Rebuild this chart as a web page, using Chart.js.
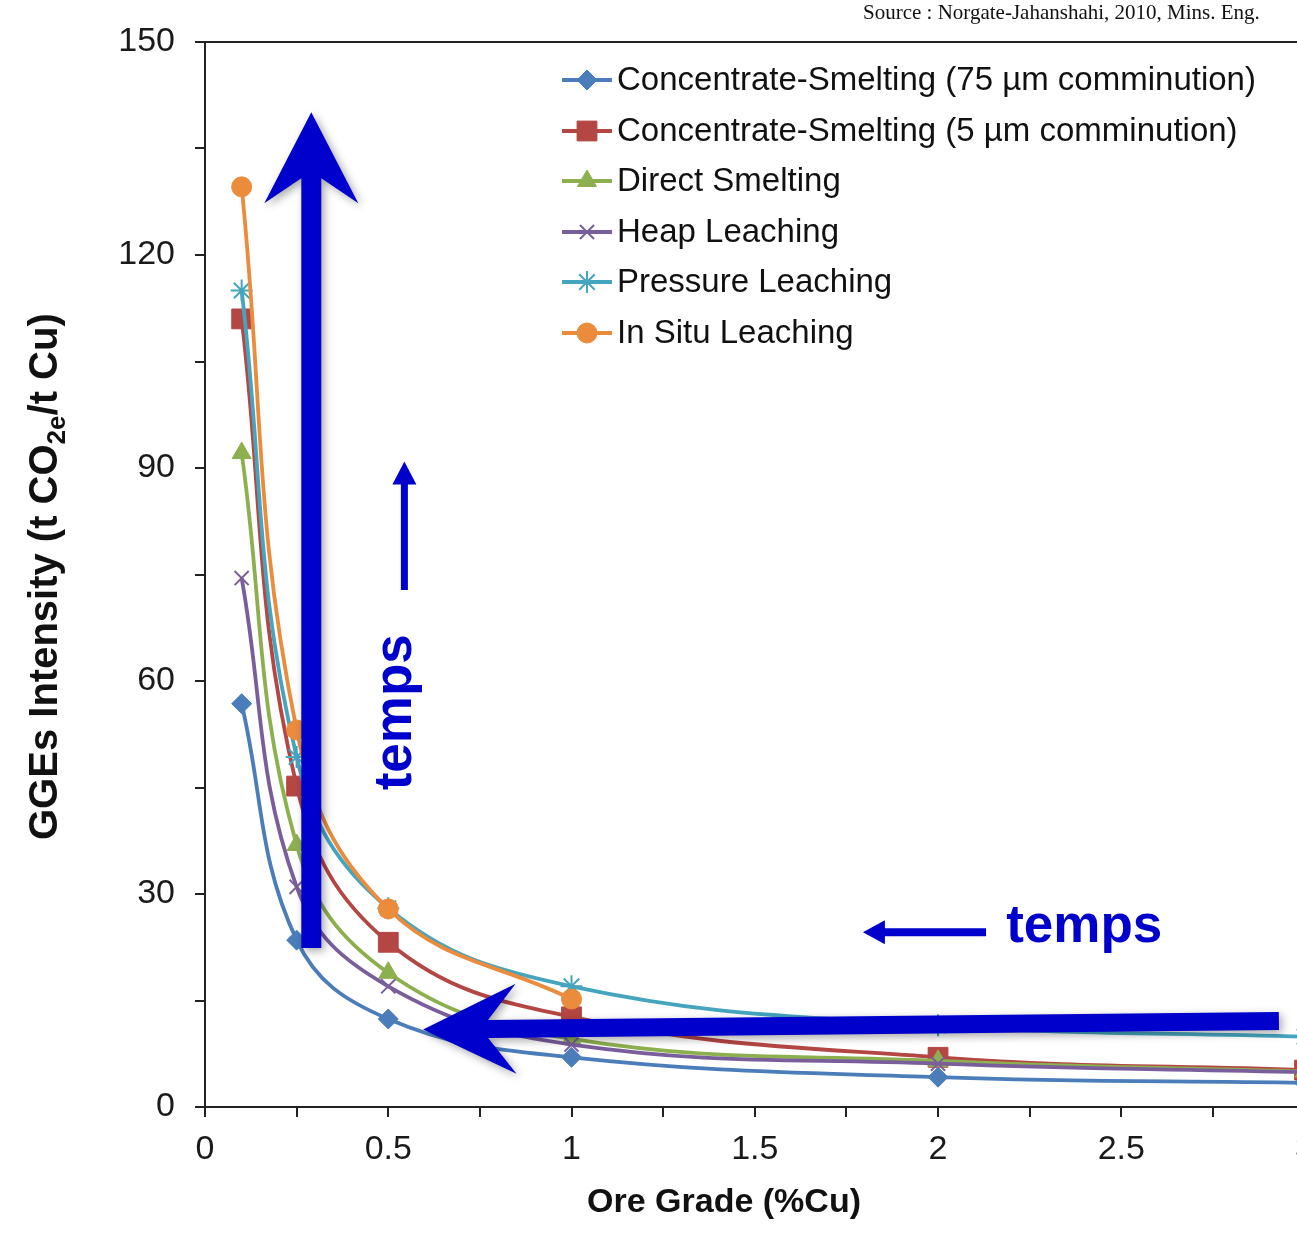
<!DOCTYPE html>
<html>
<head>
<meta charset="utf-8">
<script src="https://cdn.jsdelivr.net/npm/chart.js@4.4.1/dist/chart.umd.min.js"></script>
<style>
    html, body { margin: 0; padding: 0; background: #fff; overflow: hidden; }
    #wrap { position: absolute; left: 0; top: 0; width: 1326px; height: 1240px; }
</style>
</head>
<body>
<div id="wrap"><canvas id="grade-chart" width="1326" height="1240"></canvas></div>
<script>
// ore grade (%Cu) on x
const grades = [0.1, 0.25, 0.5, 1, 2, 3];

// GGEs intensity (t CO2e / t Cu)
const concSmelt75 = [56.8, 23.5, 12.4, 7.0, 4.2, 3.4];
const concSmelt5 = [111, 45.2, 23.2, 12.7, 7.0, 5.2];
const directSmelt = [92.1, 36.9, 18.9, 9.6, 6.5, 5.0];
const heapLeach = [74.5, 31.0, 17.0, 8.8, 6.1, 4.9];
const pressureLeach = [115, 49.3, 28.0, 17.0, 11.5, 9.9];
const inSituLeach = [129.6, 53.1, 27.9, 15.2];

const seriesNames = [
    'Concentrate-Smelting (75 µm comminution)',
    'Concentrate-Smelting (5 µm comminution)',
    'Direct Smelting',
    'Heap Leaching',
    'Pressure Leaching',
    'In Situ Leaching'
];
const seriesValues = [concSmelt75, concSmelt5, directSmelt, heapLeach, pressureLeach, inSituLeach];

const yTicksMajor = [0, 30, 60, 90, 120, 150];
const xTicksMajor = [0, 0.5, 1, 1.5, 2, 2.5, 3];

const colors = ['#4A7DBA', '#B44643', '#8DB04F', '#7A5E9C', '#45A5BF', '#EB8B3C'];
const markers = [
    {style: 'rectRot', radius: 10, border: 1},
    {style: 'rect', radius: 14, border: 1},
    {style: 'triangle', radius: 11, border: 1},
    {style: 'crossRot', radius: 10, border: 2},
    {style: 'star', radius: 11, border: 2},
    {style: 'circle', radius: 10, border: 1}
];

const ANNO_BLUE = '#0000CD';

function pointsOf(values) {
    return values.map((v, i) => ({x: grades[i], y: v}));
}

const datasets = seriesValues.map((vals, i) => ({
    label: seriesNames[i],
    data: pointsOf(vals),
    borderColor: colors[i],
    backgroundColor: colors[i],
    pointBackgroundColor: colors[i],
    pointBorderColor: colors[i],
    pointStyle: markers[i].style,
    pointRadius: markers[i].radius,
    pointBorderWidth: markers[i].border,
    borderWidth: 3.8,
    tension: 0.4,
    fill: false,
    order: 6 - i
}));

function near(a, b) {
    return Math.abs(a - b) < 1e-6;
}

// arrow from (x0,y0) to tip (x1,y1), pixels; notch > 0 gives swept-back head
function drawArrow(ctx, x0, y0, x1, y1, shaftW, headLen, headHalf, notch) {
    const dx = x1 - x0, dy = y1 - y0;
    const len = Math.hypot(dx, dy);
    const ux = dx / len, uy = dy / len;
    const nx = -uy, ny = ux;
    const bx = x1 - ux * headLen, by = y1 - uy * headLen;
    const jx = x1 - ux * (headLen - notch), jy = y1 - uy * (headLen - notch);
    const hw = shaftW / 2;
    ctx.beginPath();
    ctx.moveTo(x0 + nx * hw, y0 + ny * hw);
    ctx.lineTo(jx + nx * hw, jy + ny * hw);
    ctx.lineTo(bx + nx * headHalf, by + ny * headHalf);
    ctx.lineTo(x1, y1);
    ctx.lineTo(bx - nx * headHalf, by - ny * headHalf);
    ctx.lineTo(jx - nx * hw, jy - ny * hw);
    ctx.lineTo(x0 - nx * hw, y0 - ny * hw);
    ctx.closePath();
    ctx.fill();
}

// annotation anchors in data units
const bigUpArrow = {from: [0.29, 22.4], to: [0.29, 140.1]};
const bigLeftArrow = {from: [2.93, 12.1], to: [0.595, 10.9]};
const smallUpArrow = {from: [0.544, 72.8], to: [0.544, 90.9]};
const smallLeftArrow = {from: [2.131, 24.6], to: [1.795, 24.6]};
const upText = {at: [0.563, 44.6]};
const leftText = {at: [2.186, 23.2]};

const decorPlugin = {
    id: 'decor',
    afterDraw(chart) {
        const ctx = chart.ctx;
        const xs = chart.scales.x, ys = chart.scales.y;
        const area = chart.chartArea;
        const px = p => [xs.getPixelForValue(p[0]), ys.getPixelForValue(p[1])];

        ctx.save();
        // top frame line
        ctx.strokeStyle = '#222';
        ctx.lineWidth = 2;
        ctx.beginPath();
        ctx.moveTo(area.left, area.top);
        ctx.lineTo(area.right, area.top);
        ctx.stroke();

        // legend
        const rowY = [80, 131, 181, 232, 282, 333];
        ctx.font = '33px "Liberation Sans", Arial, sans-serif';
        ctx.textBaseline = 'middle';
        ctx.textAlign = 'left';
        seriesNames.forEach((name, i) => {
            const y = rowY[i];
            ctx.strokeStyle = colors[i];
            ctx.fillStyle = colors[i];
            ctx.lineWidth = 3.8;
            ctx.beginPath();
            ctx.moveTo(562, y);
            ctx.lineTo(612, y);
            ctx.stroke();
            ctx.lineWidth = markers[i].border;
            Chart.helpers.drawPoint(ctx, {
                pointStyle: markers[i].style,
                radius: markers[i].radius,
                rotation: 0,
                borderWidth: markers[i].border
            }, 587, y);
            ctx.fillStyle = '#111';
            ctx.fillText(name, 617, y + 1);
        });

        // source line
        ctx.font = '21px "Liberation Serif", "Times New Roman", serif';
        ctx.fillStyle = '#111';
        ctx.textBaseline = 'alphabetic';
        ctx.fillText('Source : Norgate-Jahanshahi, 2010, Mins. Eng.', 863, 19);

        // axis titles
        ctx.font = 'bold 34px "Liberation Sans", Arial, sans-serif';
        ctx.textAlign = 'center';
        ctx.fillText('Ore Grade (%Cu)', 724, 1212);

        ctx.save();
        ctx.translate(57, 840);
        ctx.rotate(-Math.PI / 2);
        ctx.textAlign = 'left';
        ctx.font = 'bold 40px "Liberation Sans", Arial, sans-serif';
        const partA = 'GGEs Intensity (t CO';
        ctx.fillText(partA, 0, 0);
        let w = ctx.measureText(partA).width;
        ctx.font = 'bold 26px "Liberation Sans", Arial, sans-serif';
        ctx.fillText('2e', w, 8);
        w += ctx.measureText('2e').width;
        ctx.font = 'bold 40px "Liberation Sans", Arial, sans-serif';
        ctx.fillText('/t Cu)', w, 0);
        ctx.restore();

        // blue annotations
        ctx.fillStyle = ANNO_BLUE;
        ctx.shadowColor = 'rgba(0, 0, 0, 0.35)';
        ctx.shadowBlur = 8;
        ctx.shadowOffsetX = 3;
        ctx.shadowOffsetY = 3;
        let a = px(bigUpArrow.from), b = px(bigUpArrow.to);
        drawArrow(ctx, a[0], a[1], b[0], b[1], 20, 91, 47, 25);
        a = px(bigLeftArrow.from); b = px(bigLeftArrow.to);
        drawArrow(ctx, a[0], a[1], b[0], b[1], 18, 93, 45, 28);

        ctx.shadowColor = 'rgba(0, 0, 0, 0)';
        ctx.shadowBlur = 0;
        ctx.shadowOffsetX = 0;
        ctx.shadowOffsetY = 0;
        a = px(smallUpArrow.from); b = px(smallUpArrow.to);
        drawArrow(ctx, a[0], a[1], b[0], b[1], 7, 23, 12, 0);
        a = px(smallLeftArrow.from); b = px(smallLeftArrow.to);
        drawArrow(ctx, a[0], a[1], b[0], b[1], 8, 22, 12, 0);

        ctx.font = 'bold 53px "Liberation Sans", Arial, sans-serif';
        ctx.textAlign = 'left';
        ctx.textBaseline = 'alphabetic';
        const lt = px(leftText.at);
        ctx.fillText('temps', lt[0], lt[1]);

        const ut = px(upText.at);
        ctx.save();
        ctx.translate(ut[0], ut[1]);
        ctx.rotate(-Math.PI / 2);
        ctx.fillText('temps', 0, 0);
        ctx.restore();

        ctx.restore();
    }
};

const tickFont = {family: '"Liberation Sans", Arial, sans-serif', size: 34};

new Chart(document.getElementById('grade-chart').getContext('2d'), {
    type: 'line',
    data: {datasets: datasets},
    options: {
        responsive: false,
        animation: false,
        layout: {
            padding: {top: 42, right: 11, left: 0, bottom: 0}
        },
        plugins: {
            legend: {display: false},
            tooltip: {enabled: false}
        },
        scales: {
            x: {
                type: 'linear',
                min: 0,
                max: 3,
                afterFit: scale => { scale.height = 133; },
                border: {display: true, color: '#222', width: 2},
                grid: {drawOnChartArea: false, drawTicks: true, tickLength: 10, color: '#222', lineWidth: 2},
                ticks: {
                    stepSize: 0.25,
                    autoSkip: false,
                    maxRotation: 0,
                    padding: 12,
                    color: '#1a1a1a',
                    font: tickFont,
                    callback: v => xTicksMajor.some(t => near(t, v)) ? String(v) : ''
                }
            },
            y: {
                min: 0,
                max: 150,
                afterFit: scale => { scale.width = 205; },
                border: {display: true, color: '#222', width: 2},
                grid: {drawOnChartArea: false, drawTicks: true, tickLength: 10, color: '#222', lineWidth: 2},
                ticks: {
                    stepSize: 15,
                    autoSkip: false,
                    padding: 20,
                    color: '#1a1a1a',
                    font: tickFont,
                    callback: v => yTicksMajor.some(t => near(t, v)) ? String(v) : ''
                }
            }
        }
    },
    plugins: [decorPlugin]
});
</script>
</body>
</html>
